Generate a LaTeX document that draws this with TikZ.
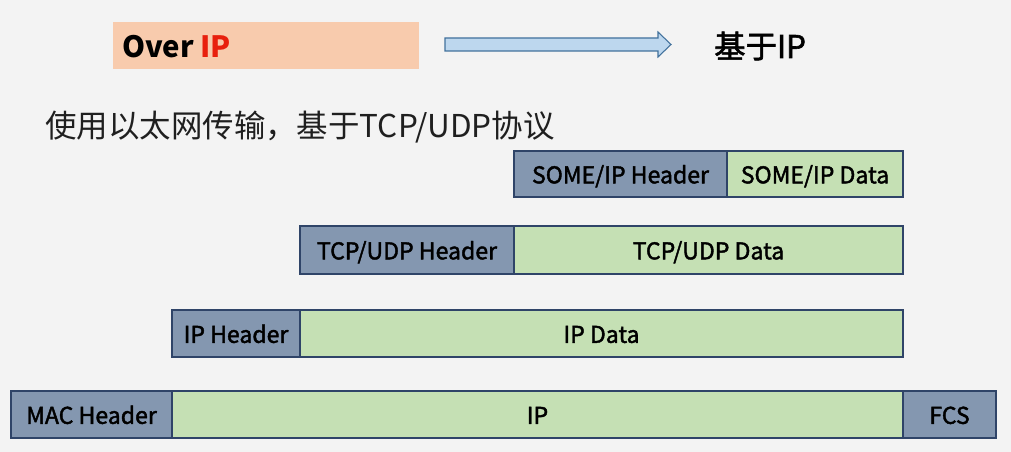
\documentclass[tikz,border=0pt]{standalone}
\usepackage{fontspec}
\setmainfont{Noto Sans CJK SC}
\newfontfamily\lblfont[FakeBold=1.8]{Noto Sans CJK SC}
\usetikzlibrary{fit}
\definecolor{bg}{HTML}{F3F3F3}
\definecolor{hdrfill}{HTML}{8497B0}
\definecolor{datafill}{HTML}{C5E0B4}
\definecolor{edge}{HTML}{2F4468}
\definecolor{peach}{HTML}{F8CBAD}
\definecolor{ipred}{HTML}{E8200E}
\definecolor{arrfill}{HTML}{BDD7EE}
\definecolor{arredge}{HTML}{41719C}
\tikzset{
  cell/.style={draw=edge, line width=1pt, inner sep=0pt},
  hdr/.style={cell, fill=hdrfill},
  dat/.style={cell, fill=datafill},
  lbl/.style={anchor=base, inner sep=0pt, yshift=-7pt, font=\lblfont\fontsize{17.3}{20}\selectfont, text=black},
}
\begin{document}
\begin{tikzpicture}[x=0.75pt,y=-0.75pt]
\fill[bg] (0,0) rectangle (1011,452);
\useasboundingbox (0,0) rectangle (1011,452);
% title box
\node[fill=peach, inner sep=0pt, fit={(113,22)(419,69)}] (over) {};
\node[anchor=west, inner sep=0pt, font=\bfseries\fontsize{22}{26}\selectfont] (overtxt) at (122,47) {Over \textcolor{ipred}{IP}};
% block arrow
\draw[draw=arredge, fill=arrfill, line width=0.8pt]
  (445,38) -- (658,38) -- (658,32) -- (671,44.5) -- (658,57) -- (658,51) -- (445,51) -- cycle;
\node[anchor=west, inner sep=0pt, font=\lblfont\fontsize{23.5}{26}\selectfont] (based) at (714,46) {基于IP};
\node[anchor=west, inner sep=0pt, font=\fontsize{23.6}{26}\selectfont, text=black!88] (desc) at (45,127) {使用以太网传输，基于TCP/UDP协议};
% row 1
\node[hdr, fit={(514,151)(727,197)}] (someh) {};
\node[dat, fit={(727,151)(903,197)}] (somed) {};
% row 2
\node[hdr, fit={(300,226)(514,274)}] (tcph) {};
\node[dat, fit={(514,226)(903,274)}] (tcpd) {};
% row 3
\node[hdr, fit={(172,310)(300,357)}] (iph) {};
\node[dat, fit={(300,310)(903,357)}] (ipd) {};
% row 4
\node[hdr, fit={(11,391)(172,438)}] (mach) {};
\node[dat, fit={(172,391)(903,438)}] (ip) {};
\node[hdr, fit={(903,391)(996,438)}] (fcs) {};
% labels
\node[lbl] (someht) at (someh.center) {SOME/IP Header};
\node[lbl] (somedt) at (somed.center) {SOME/IP Data};
\node[lbl] (tcpht) at (tcph.center) {TCP/UDP Header};
\node[lbl] (tcpdt) at (tcpd.center) {TCP/UDP Data};
\node[lbl] (ipht) at (iph.center) {IP Header};
\node[lbl] (ipdt) at (ipd.center) {IP Data};
\node[lbl] (macht) at (mach.center) {MAC Header};
\node[lbl] (ipt) at (ip.center) {IP};
\node[lbl] (fcst) at (fcs.center) {FCS};
\end{tikzpicture}
\end{document}
